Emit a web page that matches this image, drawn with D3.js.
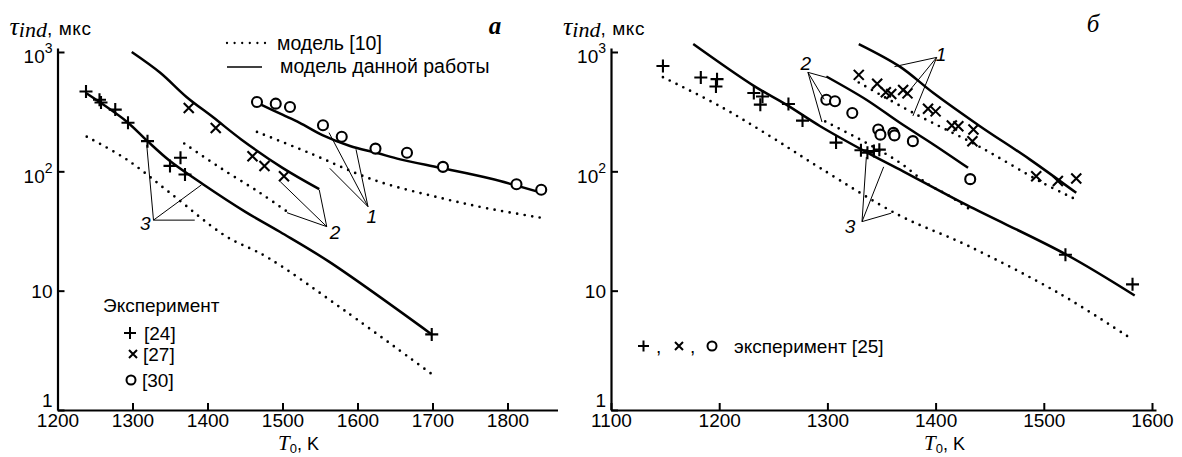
<!DOCTYPE html>
<html>
<head>
<meta charset="utf-8">
<script src="https://cdn.jsdelivr.net/npm/d3@7"></script>
<style>
  html, body { margin: 0; padding: 0; background: #fff; }
  svg { display: block; }
  text { font-family: "Liberation Sans", Arial, sans-serif; fill: #000; }
  .math { font-family: "Liberation Serif", "Times New Roman", serif; font-style: italic; }
</style>
</head>
<body>
<svg id="chart" width="1182" height="457"></svg>
<script>
// ---------- panel а : ignition delay vs initial temperature ----------
// experiments, [T0 (K), tau (mks)]
const aExpPlus   = [[1238,467],[1256,398],[1258,377],[1277,329],[1294,255],[1320,179],
                    [1350,111],[1364,130],[1370,94],[1699,4.3]];
const aExpCross  = [[1375,339],[1411,231],[1460,134],[1476,111],[1502,91]];
const aExpCircle = [[1466,381],[1491,369],[1510,346],[1554,243],[1579,195],[1624,155],
                    [1666,143],[1714,109],[1812,78],[1845,70]];
// present model (solid)
const aModel1 = [[1472,360],[1500,298],[1523,255],[1554,200],[1590,163],[1625,143],
                 [1657,126],[1710,107],[1777,87],[1846,66]];
const aModel2 = [[1299,1000],[1337,670],[1372,420],[1408,282],[1445,185],[1500,107],[1549,71]];
const aModel3 = [[1238,453],[1292,262],[1320,179],[1350,122],[1394,78],[1450,46],
                 [1497,31],[1562,17.5],[1699,4.3]];
// model [10] (dotted)
const aRef1 = [[1466,214],[1533,145],[1621,85],[1710,60],[1773,49],[1843,41]];
const aRef2 = [[1369,171],[1417,107],[1470,66],[1506,46]];
const aRef3 = [[1239,195],[1292,126],[1350,66],[1423,29],[1480,19],[1583,6.8],[1699,2.0]];

// ---------- panel б ----------
const bExpPlus   = [[1148,764],[1183,611],[1198,592],[1197,514],[1232,453],[1240,424],
                    [1238,362],[1264,367],[1277,266],[1308,174],[1331,150],[1337,143],
                    [1343,148],[1348,152],[1520,20],[1582,11.3]];
const bExpCross  = [[1329,643],[1346,541],[1354,460],[1359,445],[1370,480],[1374,450],
                    [1393,335],[1400,318],[1415,242],[1421,239],[1435,224],[1434,179],
                    [1493,91],[1513,83],[1530,87]];
const bExpCircle = [[1299,398],[1307,386],[1323,308],[1347,224],[1349,203],[1361,210],
                    [1362,200],[1379,179],[1432,86]];
const bModel1 = [[1329,1166],[1367,754],[1398,453],[1441,239],[1487,126],[1530,66]];
const bModel2 = [[1299,623],[1336,398],[1367,255],[1398,168],[1430,107]];
const bModel3 = [[1176,1166],[1232,520],[1262,362],[1293,240],[1336,145],[1370,100],
                 [1429,52],[1521,20],[1584,9.1]];
const bRef1 = [[1329,555],[1379,310],[1441,160],[1499,80],[1530,58]];
const bRef2 = [[1298,262],[1336,173],[1367,118],[1393,78],[1413,62],[1433,47]];
const bRef3 = [[1148,615],[1201,350],[1247,197],[1293,107],[1367,42.5],[1429,24],
               [1515,9.4],[1580,4.0]];

// curve number call-outs: label point, apex, and the points the leaders reach
const aCallouts = [
  { n: "1", at: [1619,41.7], apex: [1614,50.6], to: [[1562,211],[1598,153],[1563,106]] },
  { n: "2", at: [1570,31.2], apex: [1559,34.4], to: [[1497,82],[1549,70],[1506,45]] },
  { n: "3", at: [1317,37],   apex: [1328,39],   to: [[1319,166],[1392,77],[1383,39]] }
];
const bCallouts = [
  { n: "1", at: [1405,964], apex: [1401,901], to: [[1362,754],[1376,476],[1379,291]] },
  { n: "2", at: [1280,805], apex: [1282,675], to: [[1299,612],[1297,401],[1295,259]] },
  { n: "3", at: [1321,34.4], apex: [1332,37.9], to: [[1336,132],[1352,109],[1359,44.6]] }
];

// axis ticks
const aXTicks = [1200,1300,1400,1500,1600,1700,1800];
const bXTicks = [1100,1200,1300,1400,1500,1600];
const yTicks  = [1,10,100,1000];
const yTickExp = ["", "", "2", "3"];
const yTickBase = ["1", "10", "10", "10"];

const svg = d3.select("#chart");

function panel(cfg) {
  const x = d3.scaleLinear().domain(cfg.xDomain).range(cfg.xRange);
  const y = d3.scaleLog().domain([1, 1080]).range([410, 48]);
  const g = svg.append("g");

  // x axis
  const xa = g.append("g").attr("transform", "translate(0,410)")
    .call(d3.axisBottom(x).tickValues(cfg.xTicks).tickSizeInner(-7).tickSizeOuter(0)
          .tickFormat(d3.format("d")));
  xa.select(".domain").attr("stroke-width", 2.2);
  xa.selectAll(".tick line").attr("stroke-width", 2);
  xa.selectAll(".tick text").attr("y", 16.5).attr("dy", 0)
    .attr("font-size", 19).attr("font-family", "Liberation Sans, Arial, sans-serif");

  // y axis
  const ya = g.append("g").attr("transform", `translate(${cfg.xRange[0]},0)`)
    .call(d3.axisLeft(y).tickValues(yTicks).tickSizeInner(-7).tickSizeOuter(0).tickFormat(""));
  ya.select(".domain").attr("stroke-width", 2.2);
  ya.selectAll(".tick line").attr("stroke-width", 2);
  ya.selectAll(".tick text").each(function(d, i) {
    const t = d3.select(this).attr("x", -5).attr("dy", 0)
      .attr("font-size", 19).attr("font-family", "Liberation Sans, Arial, sans-serif");
    if (d === 1) { t.attr("y", -4).text("1"); return; }
    if (yTickExp[i] === "") { t.attr("y", 7).text(yTickBase[i]); return; }
    t.attr("y", 11);
    t.append("tspan").text(yTickBase[i]);
    t.append("tspan").attr("font-size", 14).attr("dy", -10).text(yTickExp[i]);
  });

  const line = d3.line().x(d => x(d[0])).y(d => y(d[1])).curve(d3.curveCatmullRom.alpha(0.5));

  // model [10]
  cfg.refs.forEach(r => g.append("path").attr("d", line(r)).attr("fill", "none")
    .attr("stroke", "#000").attr("stroke-width", 2.7).attr("stroke-linecap", "round")
    .attr("stroke-dasharray", "0 7.6"));
  // present model
  cfg.models.forEach(m => g.append("path").attr("d", line(m)).attr("fill", "none")
    .attr("stroke", "#000").attr("stroke-width", 2.5).attr("stroke-linejoin", "round"));

  // experimental points
  const mk = g.append("g").attr("stroke", "#000").attr("fill", "none").attr("stroke-width", 2.1);
  mk.selectAll(".p").data(cfg.plus).join("path")
    .attr("d", d => `M${x(d[0]) - 6.5},${y(d[1])}h13M${x(d[0])},${y(d[1]) - 6.5}v13`);
  mk.selectAll(".x").data(cfg.cross).join("path")
    .attr("d", d => `M${x(d[0]) - 5},${y(d[1]) - 5}l10,10M${x(d[0]) - 5},${y(d[1]) + 5}l10,-10`);
  mk.selectAll(".o").data(cfg.circle).join("circle")
    .attr("cx", d => x(d[0])).attr("cy", d => y(d[1])).attr("r", 5).attr("fill", "#fff");

  // call-outs
  cfg.callouts.forEach(c => {
    c.to.forEach(p => g.append("line")
      .attr("x1", x(c.apex[0])).attr("y1", y(c.apex[1]))
      .attr("x2", x(p[0])).attr("y2", y(p[1]))
      .attr("stroke", "#000").attr("stroke-width", 1));
    g.append("text").attr("x", x(c.at[0])).attr("y", y(c.at[1])).attr("dy", "0.36em")
      .attr("text-anchor", "middle").attr("font-size", 19).attr("font-style", "italic")
      .text(c.n);
  });

  // axis titles
  const ty = g.append("text").attr("x", cfg.xRange[0] - 48).attr("y", 35);
  ty.append("tspan").attr("class", "math").attr("font-size", 26).text("τ");
  ty.append("tspan").attr("class", "math").attr("font-size", 22).attr("dy", 2).text("ind");
  ty.append("tspan").attr("font-size", 19).attr("dy", -2).attr("letter-spacing", 0.6).text(", мкс");

  const tx = g.append("text").attr("x", cfg.xTitleX).attr("y", 450);
  tx.append("tspan").attr("class", "math").attr("font-size", 21).text("T");
  tx.append("tspan").attr("font-size", 13).attr("dy", 3).text("0");
  tx.append("tspan").attr("font-size", 18).attr("dy", -3).text(", K");

  g.append("text").attr("class", "math").attr("x", cfg.tagPos[0]).attr("y", cfg.tagPos[1])
    .attr("font-size", 25).attr("font-weight", cfg.tagBold ? "bold" : "normal")
    .attr("text-anchor", "middle").text(cfg.tag);

  return { g, x, y };
}

const A = panel({
  xDomain: [1200, 1866.7], xRange: [57.5, 557.5], xTicks: aXTicks,
  refs: [aRef1, aRef2, aRef3], models: [aModel1, aModel2, aModel3],
  plus: aExpPlus, cross: aExpCross, circle: aExpCircle, callouts: aCallouts,
  xTitleX: 278, tag: "а", tagPos: [495, 34], tagBold: true
});
const B = panel({
  xDomain: [1100, 1603.7], xRange: [611, 1156], xTicks: bXTicks,
  refs: [bRef1, bRef2, bRef3], models: [bModel1, bModel2, bModel3],
  plus: bExpPlus, cross: bExpCross, circle: bExpCircle, callouts: bCallouts,
  xTitleX: 924, tag: "б", tagPos: [1093, 32], tagBold: false
});

// line-style key, panel а
const key = A.g.append("g");
key.append("line").attr("x1", 227).attr("x2", 265).attr("y1", 43).attr("y2", 43)
  .attr("stroke", "#000").attr("stroke-width", 2.3).attr("stroke-linecap", "round")
  .attr("stroke-dasharray", "0 7.6");
key.append("text").attr("x", 277).attr("y", 43).attr("dy", "0.36em").attr("font-size", 19.5)
  .text("модель [10]");
key.append("line").attr("x1", 227).attr("x2", 262).attr("y1", 67).attr("y2", 67)
  .attr("stroke", "#000").attr("stroke-width", 1.4);
key.append("text").attr("x", 280).attr("y", 66).attr("dy", "0.36em").attr("font-size", 19.5)
  .text("модель данной работы");

// experiment key, panel а
const ek = A.g.append("g");
ek.append("text").attr("x", 103).attr("y", 305).attr("dy", "0.36em").attr("font-size", 19)
  .text("Эксперимент");
const ekm = ek.append("g").attr("stroke", "#000").attr("fill", "none").attr("stroke-width", 2);
ekm.append("path").attr("d", "M124,333h12M130,327v12");
ekm.append("path").attr("d", "M129,350l8,8M129,358l8,-8");
ekm.append("circle").attr("cx", 131).attr("cy", 380).attr("r", 4.5);
[["[24]", 333], ["[27]", 354], ["[30]", 380]].forEach(([s, yy], i) =>
  ek.append("text").attr("x", 144 - i).attr("y", yy).attr("dy", "0.36em").attr("font-size", 19).text(s));

// experiment key, panel б
const bk = B.g.append("g");
const bkm = bk.append("g").attr("stroke", "#000").attr("fill", "none").attr("stroke-width", 2);
bkm.append("path").attr("d", "M638,346h11M643.5,340.5v11");
bkm.append("path").attr("d", "M675,342l8,8M675,350l8,-8");
bkm.append("circle").attr("cx", 712).attr("cy", 346).attr("r", 4.5);
bk.append("text").attr("x", 656).attr("y", 346).attr("dy", "0.36em").attr("font-size", 19).text(",");
bk.append("text").attr("x", 690).attr("y", 346).attr("dy", "0.36em").attr("font-size", 19).text(",");
bk.append("text").attr("x", 734).attr("y", 346).attr("dy", "0.36em").attr("font-size", 19)
  .text("эксперимент [25]");
</script>
</body>
</html>
